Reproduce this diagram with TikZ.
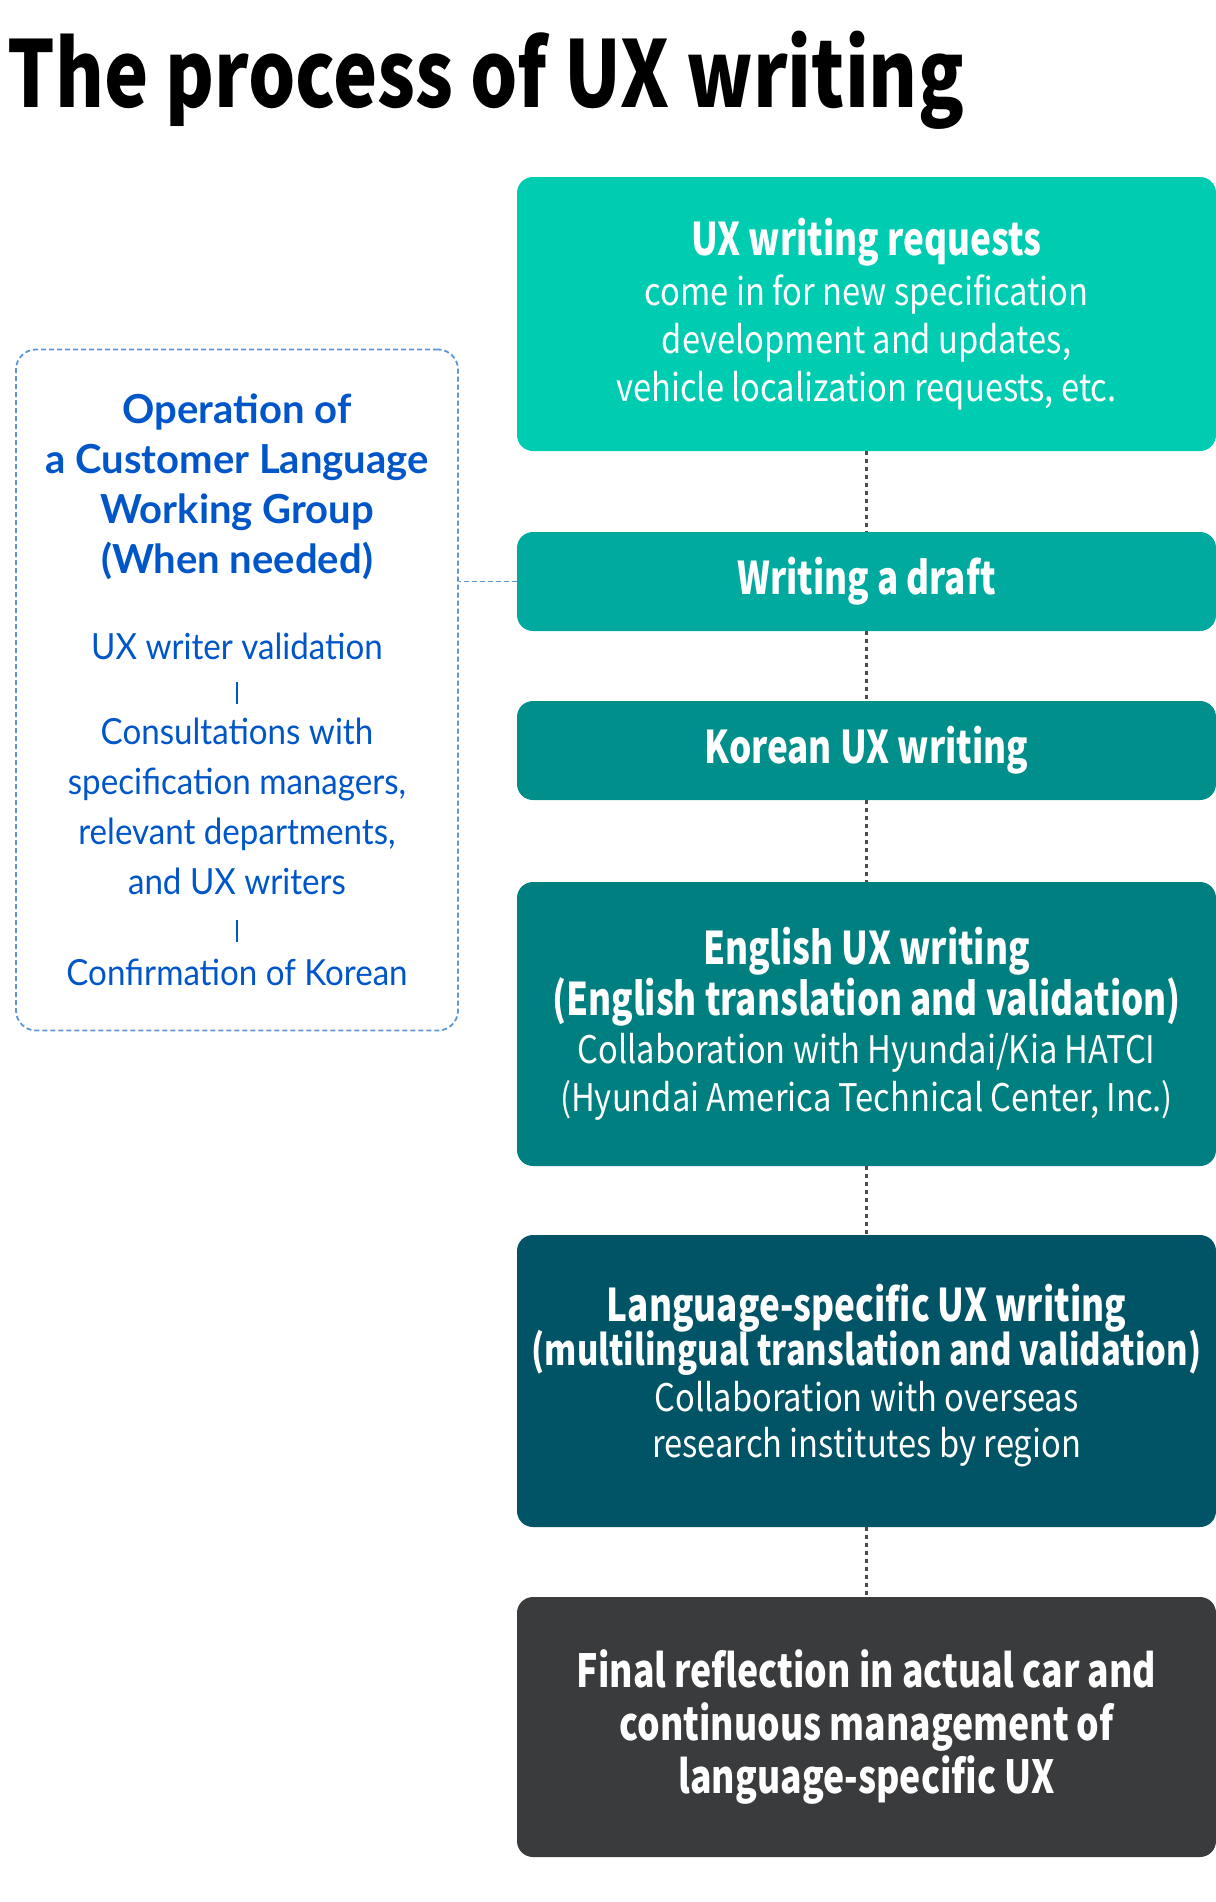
\documentclass[tikz,border=0pt]{standalone}
\usepackage{fontspec}
\setmainfont{Noto Sans CJK KR}[
    UprightFeatures={FakeStretch=0.86},
    BoldFeatures={FakeStretch=0.78}]
\newfontfamily\titlefont{Noto Sans CJK KR}[FakeStretch=0.81]
\newfontfamily\groupfont{Lato}[UprightFeatures={FakeStretch=0.92}]
\usetikzlibrary{positioning}
\definecolor{request colour}{RGB}{0,204,178}
\definecolor{draft colour}{RGB}{0,170,158}
\definecolor{korean colour}{RGB}{0,143,139}
\definecolor{english colour}{RGB}{0,127,128}
\definecolor{language colour}{RGB}{0,84,102}
\definecolor{final colour}{RGB}{58,59,61}
\definecolor{group colour}{RGB}{0,86,200}
\definecolor{group line colour}{RGB}{92,150,212}
\colorlet{link colour}{black!70}
\tikzset{
    % Every step of the flow is a filled box with white text
    step box/.style={
        rectangle, rounded corners=8pt, text=white, align=center,
        minimum width=349.5pt, inner sep=0pt,
        font=\fontsize{19}{24}\selectfont},
    % Next the lines
    flow/.style={draw, color=link colour, line width=1.5pt,
        dash pattern=on 2pt off 2pt},
    group link/.style={draw, color=group line colour, line width=0.9pt,
        dash pattern=on 2.5pt off 1.5pt},
%
    group box/.style={
        draw=group line colour, line width=0.9pt, dash pattern=on 2.5pt off 1.5pt,
        rectangle, rounded corners=10pt, text=group colour, align=center,
        minimum width=221pt, minimum height=340.5pt, inner sep=0pt,
        font=\groupfont\fontsize{18}{25}\selectfont},
}
\newcommand{\groupbar}{\rule{0.7pt}{11pt}}
\newcommand{\headline}[1]{{\bfseries\fontsize{22.5}{24}\selectfont #1}}
\newcommand{\grouphead}[1]{{\bfseries\fontsize{20}{25}\selectfont #1}}

\begin{document}
\begin{tikzpicture}[
    x=0.5pt, y=-0.5pt]

\useasboundingbox (0,0) rectangle (1216,1902);

\node [anchor=base west, inner sep=0pt, font=\titlefont\fontsize{46}{50}\selectfont\bfseries]
    (title) at (7,107) {The process of UX writing};

\path
    (866.5,314) node [step box, fill=request colour, minimum height=137pt] (request)
        {\headline{UX writing requests}\\[1pt]
        come in for new specification\\
        development and updates,\\
        vehicle localization requests, etc.}
    ++(0,267.5) node [step box, fill=draft colour, minimum height=49.5pt] (draft)
        {\headline{Writing a draft}}
    ++(0,169) node [step box, fill=korean colour, minimum height=49.5pt] (korean)
        {\headline{Korean UX writing}}
    ++(0,273.5) node [step box, fill=english colour, minimum height=142pt] (english)
        {\headline{English UX writing}\\
        \headline{(English translation and validation)}\\
        Collaboration with Hyundai/Kia HATCI\\
        (Hyundai America Technical Center, Inc.)}
    ++(0,357) node [step box, fill=language colour, minimum height=146pt] (language)
        {\headline{Language-specific UX writing}\\[-1.8pt]
        {\bfseries\fontsize{21}{24}\selectfont (multilingual translation and validation)}\\[-1pt]
        Collaboration with overseas\\[-1pt]
        research institutes by region\rule[-10pt]{0pt}{10pt}}
    ++(0,346) node [step box, fill=final colour, minimum height=130pt,
        font=\fontsize{22.8}{26.5}\selectfont\bfseries] (final)
        {Final reflection in actual car and\\
        continuous management of\\
        language-specific UX};

\node [group box] (group) at (237,690)
    {\grouphead{Operation of}\\
    \grouphead{a Customer Language}\\
    \grouphead{Working Group}\\
    \grouphead{(When needed)}\\[18pt]
    UX writer validation\\[-3pt]
    \groupbar\\[-4.5pt]
    Consultations with\\
    specification managers,\\
    relevant departments,\\
    and UX writers\\[-1.5pt]
    \groupbar\\[-3pt]
    Confirmation of Korean};

\draw [flow] (request) -- (draft);
\draw [flow] (draft) -- (korean);
\draw [flow] (korean) -- (english);
\draw [flow] (english) -- (language);
\draw [flow] (language) -- (final);
\draw [group link] (draft.west) -- (draft.west -| group.east);

\end{tikzpicture}
\end{document}
